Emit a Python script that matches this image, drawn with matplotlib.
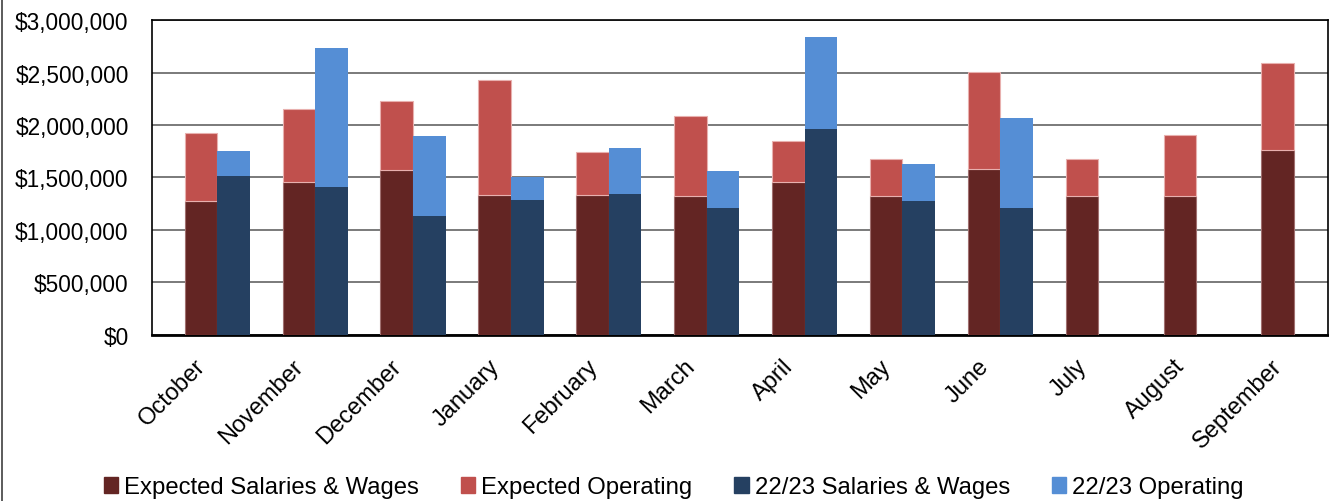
import numpy as np
import matplotlib
matplotlib.use("Agg")
import matplotlib.pyplot as plt
import matplotlib.transforms as mtransforms
from matplotlib.patches import Patch
from matplotlib.lines import Line2D
from matplotlib.ticker import FuncFormatter

plt.rcParams['font.family'] = ['Liberation Sans', 'DejaVu Sans']

months = ['October', 'November', 'December', 'January', 'February', 'March',
          'April', 'May', 'June', 'July', 'August', 'September']

# expected budget, split into salaries and operating (totals)
exp_salaries = [1277000, 1455000, 1573000, 1334000, 1334000, 1325000,
                1455000, 1325000, 1582000, 1325000, 1325000, 1761000]
exp_total = [1920000, 2155000, 2228000, 2428000, 1744000, 2082000,
             1849000, 1675000, 2505000, 1675000, 1907000, 2591000]

# 22/23 actuals, nothing yet for July - September
act_salaries = [1512000, 1407000, 1131000, 1283000, 1341000, 1207000,
                1961000, 1274000, 1207000, np.nan, np.nan, np.nan]
act_total = [1751000, 2734000, 1894000, 1500000, 1780000, 1560000,
             2839000, 1627000, 2066000, np.nan, np.nan, np.nan]

c_exp_sal = '#632523'
c_exp_op = '#C0504D'
c_act_sal = '#254061'
c_act_op = '#558ED5'

exp_operating = np.array(exp_total) - np.array(exp_salaries)
act_operating = np.array(act_total) - np.array(act_salaries)

x = np.arange(len(months))
w = 0.333

fig = plt.figure(figsize=(13.29, 5.02), dpi=100)
ax = fig.add_axes([0.1146, 0.331, 0.999 - 0.1146, 0.958 - 0.331])

ax.bar(x - w / 2, exp_salaries, w, color=c_exp_sal, edgecolor='#a07070', linewidth=0.8, zorder=3)
ax.bar(x - w / 2, exp_operating, w, bottom=exp_salaries, color=c_exp_op,
       edgecolor='#e8b0ae', linewidth=0.8, zorder=3)
ax.bar(x + w / 2, act_salaries, w, color=c_act_sal, linewidth=0, zorder=3)
ax.bar(x + w / 2, act_operating, w, bottom=act_salaries, color=c_act_op, linewidth=0, zorder=3)

ax.set_ylim(0, 3000000)
ax.set_xlim(-0.664, 11.344)
ax.set_yticks(np.arange(0, 3000001, 500000))
ax.yaxis.set_major_formatter(FuncFormatter(lambda v, p: '${:,.0f}'.format(v)))
ax.grid(axis='y', color='#7a7a7a', linewidth=1.4, zorder=0)
ax.tick_params(axis='y', length=0, pad=17, labelsize=16.3)

ax.set_xticks(x)
ax.set_xticklabels(months, rotation=45, ha='right', va='center',
                   rotation_mode='anchor', fontsize=17)
ax.tick_params(axis='x', length=0, pad=20)
# Excel puts the rotated labels a little left of the tick
shift = mtransforms.ScaledTranslation(-15 / 100, 0, fig.dpi_scale_trans)
for lab in ax.get_xticklabels():
    lab.set_transform(lab.get_transform() + shift)

for side in ['top', 'right', 'left']:
    ax.spines[side].set_color('black')
    ax.spines[side].set_linewidth(1.2)
ax.spines['bottom'].set_linewidth(2)

handles = [Patch(color=c_exp_sal), Patch(color=c_exp_op),
           Patch(color=c_act_sal), Patch(color=c_act_op)]
labels = ['Expected Salaries & Wages', 'Expected Operating',
          '22/23 Salaries & Wages', '22/23 Operating']
fig.legend(handles, labels, loc='center', bbox_to_anchor=(0.507, 0.027), ncol=4,
           frameon=False, fontsize=17.2, handlelength=0.6, handleheight=0.6,
           handletextpad=0.25, columnspacing=1.75, borderaxespad=0)

# thin border on the left edge of the picture
fig.add_artist(Line2D([0.0015, 0.0015], [0, 1], color='#404040', linewidth=1.2))

fig.savefig('out.png', dpi=100)
